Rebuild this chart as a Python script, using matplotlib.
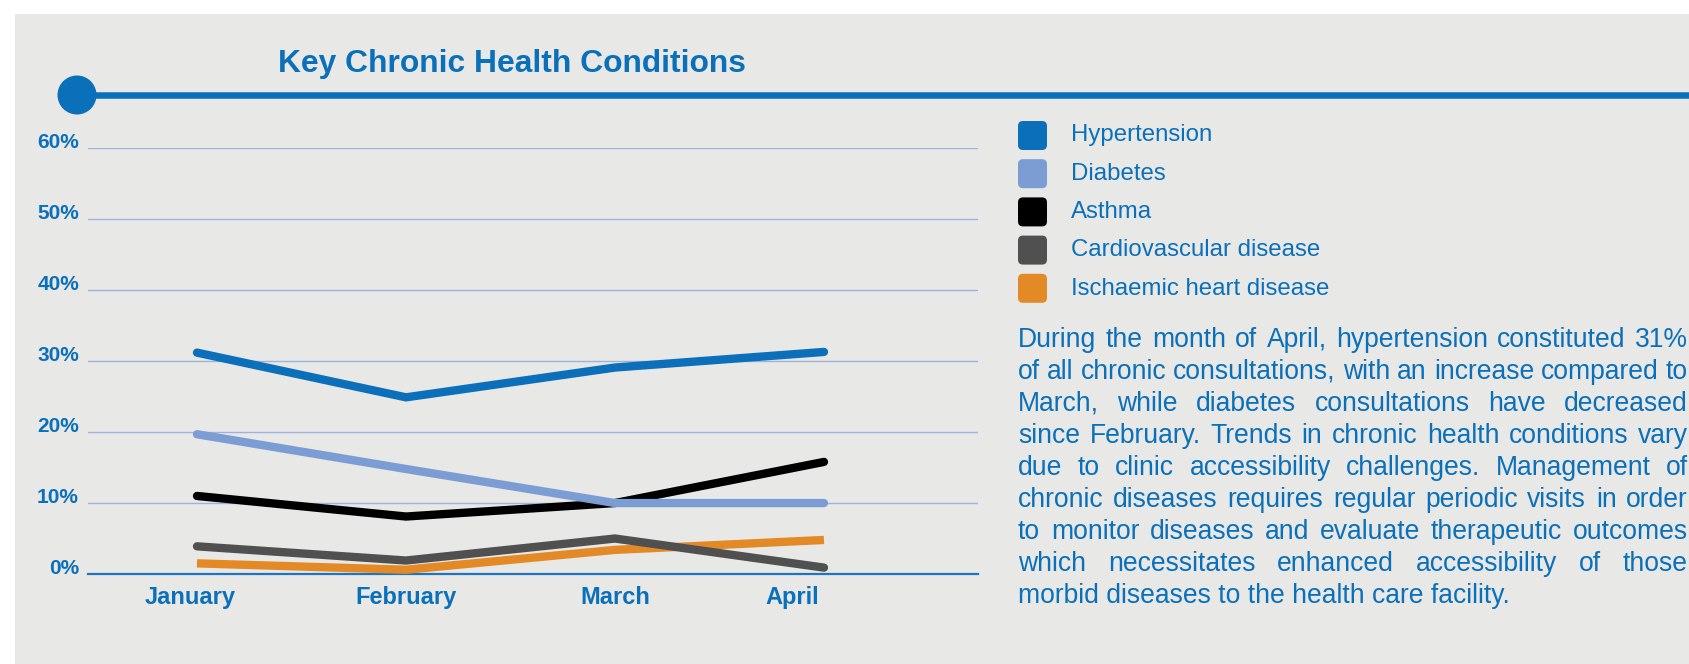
import matplotlib
matplotlib.use('Agg')
import matplotlib.pyplot as plt
from matplotlib.patches import Rectangle, Circle, FancyBboxPatch
import matplotlib.transforms as mtransforms
import numpy as np

# ---------------- data ----------------
months = ['January', 'February', 'March', 'April']
hypertension = [31.2, 24.9, 29.1, 31.3]
diabetes = [19.7, 14.8, 10.0, 10.0]
asthma = [11.0, 8.1, 10.0, 15.8]
cardiovascular = [3.9, 1.9, 5.0, 0.9]
ischaemic = [1.5, 0.6, 3.4, 4.8]

series_names = ['Hypertension', 'Diabetes', 'Asthma',
                'Cardiovascular disease', 'Ischaemic heart disease']
series_values = [hypertension, diabetes, asthma, cardiovascular, ischaemic]
series_colors = ['#0B6FBA', '#7B9DD4', '#000000', '#505050', '#E38A26']

y_ticks = [0, 10, 20, 30, 40, 50, 60]
y_tick_labels = ['0%', '10%', '20%', '30%', '40%', '50%', '60%']

title = 'Key Chronic Health Conditions'
paragraph_lines = [
    'During the month of April, hypertension constituted 31%',
    'of all chronic consultations, with an increase compared to',
    'March, while diabetes consultations have decreased',
    'since February. Trends in chronic health conditions vary',
    'due to clinic accessibility challenges. Management of',
    'chronic diseases requires regular periodic visits in order',
    'to monitor diseases and evaluate therapeutic outcomes',
    'which necessitates enhanced accessibility of those',
    'morbid diseases to the health care facility.',
]

# ---------------- style ----------------
BLUE = '#0B70BA'
BG = '#E8E8E6'
GRID = '#9DB3DE'
FONT = 'Liberation Sans'
W, H = 1690, 664

fig = plt.figure(figsize=(W / 100, H / 100), dpi=100)
fig.patch.set_facecolor('white')

# overlay axes in pixel units (y downwards)
bg = fig.add_axes([0, 0, 1, 1])
bg.set_xlim(0, W)
bg.set_ylim(H, 0)
bg.axis('off')
bg.add_patch(Rectangle((15, 14), W - 15, H - 14, facecolor=BG, edgecolor='none', zorder=0))

# header bar with circle
bg.plot([77, W], [95, 95], color=BLUE, lw=4.7, solid_capstyle='butt', zorder=1)
bg.add_patch(Circle((77, 95), 19.5, facecolor=BLUE, edgecolor='none', zorder=2))
bg.text(512, 64, title, ha='center', va='center', fontsize=22.9, fontweight='bold',
        color=BLUE, family=FONT)

# ---------------- chart ----------------
ax = fig.add_axes([88 / W, (H - 574) / H, (978 - 88) / W, (574 - 148.3) / H])
ax.patch.set_visible(False)
x = np.arange(len(months))
order = [4, 3, 2, 1, 0]
for i in order:
    cap = 'butt' if i == 4 else 'round'
    ax.plot(x, series_values[i], color=series_colors[i], lw=6,
            solid_capstyle=cap, solid_joinstyle='miter', clip_on=False, zorder=3)

ax.set_xlim(-0.5215, 3.737)
ax.set_ylim(0, 60)
ax.set_yticks(y_ticks)
ax.set_yticklabels(y_tick_labels)
ax.set_xticks(x)
ax.set_xticklabels(months)
ax.yaxis.grid(True, color=GRID, lw=1.0)
ax.set_axisbelow(True)
for s in ['top', 'right', 'left']:
    ax.spines[s].set_visible(False)
ax.spines['bottom'].set_color('#1F74C0')
ax.spines['bottom'].set_linewidth(1.6)
ax.tick_params(axis='both', length=0)
ax.tick_params(axis='y', pad=6.5)
ax.tick_params(axis='x', pad=21.6)
for lab in ax.get_yticklabels():
    lab.set_fontsize(15)
    lab.set_fontweight('bold')
    lab.set_color(BLUE)
    lab.set_family(FONT)
    lab.set_va('baseline')
# small horizontal label shifts as in the reference layout (pixels)
label_shift_px = [-7, 0, 0, -32]
for lab, dx in zip(ax.get_xticklabels(), label_shift_px):
    lab.set_fontsize(17)
    lab.set_fontweight('bold')
    lab.set_color(BLUE)
    lab.set_family(FONT)
    lab.set_va('baseline')
    lab.set_transform(lab.get_transform() +
                      mtransforms.ScaledTranslation(dx / 100, 0, fig.dpi_scale_trans))

# ---------------- legend ----------------
for i, (name, c) in enumerate(zip(series_names, series_colors)):
    cy = 135.5 + 38.2 * i
    bg.add_patch(FancyBboxPatch((1018 + 5, cy - 14.5 + 5), 29 - 10, 29 - 10,
                                boxstyle='round,pad=5', facecolor=c, edgecolor='none', zorder=2))
    bg.text(1071, 141.5 + 38.3 * i, name, ha='left', va='baseline', fontsize=17.3,
            color=BLUE, family=FONT)

# ---------------- paragraph (justified) ----------------
fig.canvas.draw()
renderer = fig.canvas.get_renderer()
left, right = 1018, 1688
PFS = 19.1
for i, line in enumerate(paragraph_lines):
    y = 346.7 + 32.0 * i
    if i == len(paragraph_lines) - 1:
        bg.text(left, y, line, ha='left', va='baseline', fontsize=PFS, color=BLUE, family=FONT)
        continue
    words = line.split()
    texts = [bg.text(0, y, w, ha='left', va='baseline', fontsize=PFS, color=BLUE, family=FONT)
             for w in words]
    widths = [t.get_window_extent(renderer).width for t in texts]
    gap = (right - left - sum(widths)) / (len(words) - 1)
    xpos = left
    for t, wd in zip(texts, widths):
        t.set_x(xpos)
        xpos += wd + gap

fig.savefig('out.png', dpi=100, facecolor=fig.get_facecolor())
